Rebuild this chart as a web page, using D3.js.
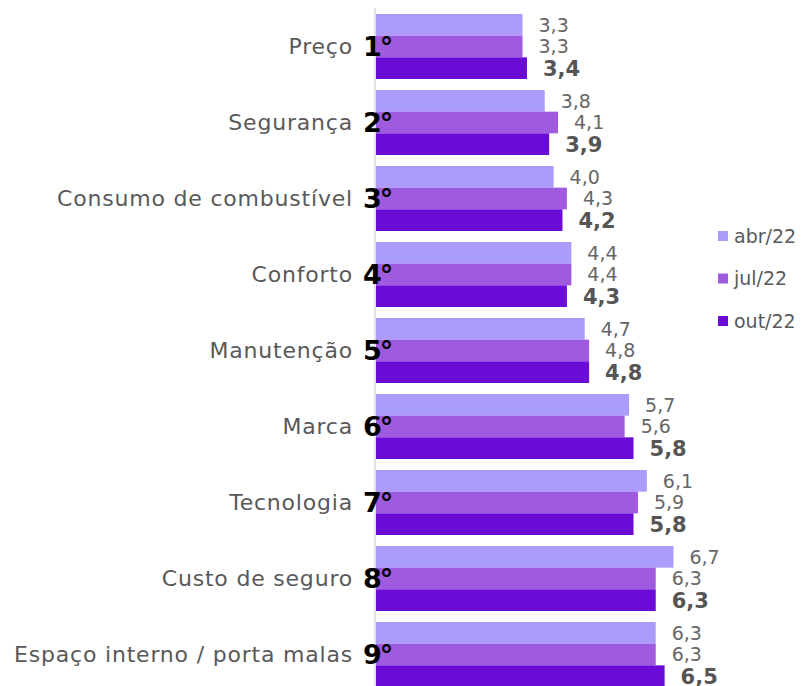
<!DOCTYPE html>
<html>
<head>
<meta charset="utf-8">
<script src="https://cdn.jsdelivr.net/npm/d3@7"></script>
<style>
  body { margin: 0; background: white; }
  text { font-family: "DejaVu Sans", sans-serif; }
</style>
</head>
<body>
<div id="canvas"></div>
<script>
const width = 806;
const height = 686;

const categories = ["Preço", "Segurança", "Consumo de combustível", "Conforto", "Manutenção",
    "Marca", "Tecnologia", "Custo de seguro", "Espaço interno / porta malas"];
const ranks = ["1°", "2°", "3°", "4°", "5°", "6°", "7°", "8°", "9°"];
const seriesNames = ["abr/22", "jul/22", "out/22"];
const abr = [3.3, 3.8, 4.0, 4.4, 4.7, 5.7, 6.1, 6.7, 6.3];
const jul = [3.3, 4.1, 4.3, 4.4, 4.8, 5.6, 5.9, 6.3, 6.3];
const out = [3.4, 3.9, 4.2, 4.3, 4.8, 5.8, 5.8, 6.3, 6.5];
const colors = ["#ab9cfb", "#a05ade", "#6a0bd6"];

const values = [abr, jul, out];

const svg = d3.select("#canvas")
    .append("svg")
    .attr("width", width)
    .attr("height", height);

const x = d3.scaleLinear()
    .domain([0, 1])
    .range([376, 420.4]);

const y = d3.scaleBand()
    .domain(categories)
    .range([14, 687])
    .paddingInner(0.145);

const ySub = d3.scaleBand()
    .domain(seriesNames)
    .range([0, y.bandwidth()]);

// vertical axis line
svg.append("line")
    .attr("x1", 375).attr("x2", 375)
    .attr("y1", 8).attr("y2", height)
    .attr("stroke", "#d9d9d9")
    .attr("stroke-width", 1.5);

// bars
seriesNames.forEach(function(s, si) {
    svg.append("g")
        .selectAll("rect")
        .data(categories)
        .join("rect")
        .attr("x", x(0))
        .attr("y", (d) => y(d) + ySub(s))
        .attr("width", (d, i) => x(values[si][i]) - x(0))
        .attr("height", ySub.bandwidth())
        .attr("fill", colors[si]);
});

// value labels (drawn after all bars so they sit on top)
seriesNames.forEach(function(s, si) {
    svg.append("g")
        .selectAll("text")
        .data(categories)
        .join("text")
        .attr("x", (d, i) => x(values[si][i]) + 16)
        .attr("y", (d) => y(d) + ySub(s) + ySub.bandwidth() / 2)
        .attr("dy", "0.36em")
        .attr("font-size", si == 2 ? 21 : 19)
        .attr("font-weight", si == 2 ? 700 : 400)
        .attr("fill", si == 2 ? "#555555" : "#666666")
        .text((d, i) => d3.format(".1f")(values[si][i]).replace(".", ","));
});

// category labels
svg.append("g")
    .selectAll("text")
    .data(categories)
    .join("text")
    .attr("x", 353)
    .attr("y", (d) => y(d) + y.bandwidth() / 2)
    .attr("dy", "0.36em")
    .attr("text-anchor", "end")
    .attr("font-size", 22)
    .attr("letter-spacing", 0.8)
    .attr("fill", "#595959")
    .text((d) => d);

// ranking
svg.append("g")
    .selectAll("text")
    .data(categories)
    .join("text")
    .attr("x", 363)
    .attr("y", (d) => y(d) + y.bandwidth() / 2)
    .attr("dy", "0.36em")
    .attr("font-size", 27)
    .attr("font-weight", 700)
    .attr("letter-spacing", -2)
    .attr("fill", "#000")
    .text((d, i) => ranks[i]);

// legend
const legend = svg.append("g")
    .selectAll("g")
    .data(seriesNames)
    .join("g")
    .attr("transform", (d, i) => "translate(718," + (236 + i * 42.5) + ")");

legend.append("rect")
    .attr("x", 0).attr("y", -5)
    .attr("width", 10).attr("height", 10)
    .attr("fill", (d, i) => colors[i]);

legend.append("text")
    .attr("x", 16)
    .attr("dy", "0.36em")
    .attr("font-size", 19)
    .attr("fill", "#595959")
    .text((d) => d);
</script>
</body>
</html>
